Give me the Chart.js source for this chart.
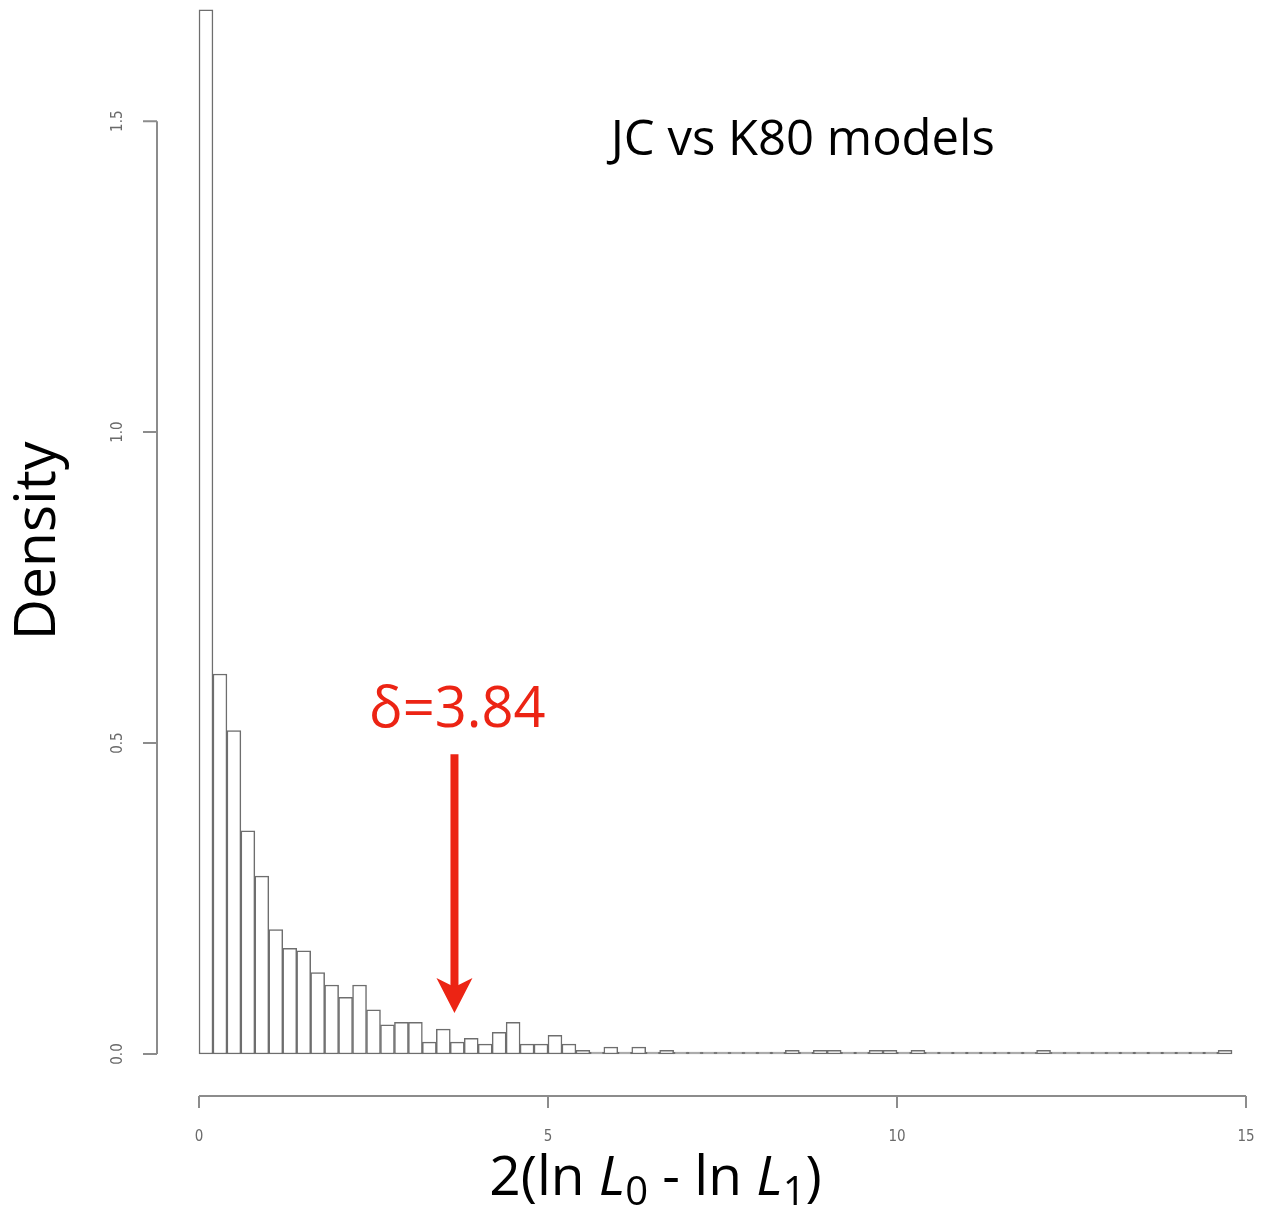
<!DOCTYPE html>
<html>
<head>
<meta charset="utf-8">
<script src="https://cdn.jsdelivr.net/npm/chart.js@4.4.1/dist/chart.umd.min.js"></script>
<style>
  html, body { margin: 0; padding: 0; background: #fff; }
</style>
</head>
<body>
<canvas id="myChart" width="1262" height="1212"></canvas>
<script>
// histogram bins (left edge of each 0.2 wide bin)
const binStart = [
  0, 0.2, 0.4, 0.6, 0.8, 1, 1.2, 1.4, 1.6, 1.8,
  2, 2.2, 2.4, 2.6, 2.8, 3, 3.2, 3.4, 3.6, 3.8,
  4, 4.2, 4.4, 4.6, 4.8, 5, 5.2, 5.4, 5.6, 5.8,
  6, 6.2, 6.4, 6.6, 6.8, 7, 7.2, 7.4, 7.6, 7.8,
  8, 8.2, 8.4, 8.6, 8.8, 9, 9.2, 9.4, 9.6, 9.8,
  10, 10.2, 10.4, 10.6, 10.8, 11, 11.2, 11.4, 11.6, 11.8,
  12, 12.2, 12.4, 12.6, 12.8, 13, 13.2, 13.4, 13.6, 13.8,
  14, 14.2, 14.4, 14.6
];
const binWidth = 0.2;

// density
const density = [
  1.679, 0.611, 0.520, 0.359, 0.286, 0.200, 0.170, 0.166, 0.131, 0.111,
  0.091, 0.111, 0.071, 0.047, 0.051, 0.051, 0.019, 0.040, 0.019, 0.025,
  0.016, 0.035, 0.051, 0.016, 0.016, 0.030, 0.016, 0.006, 0, 0.011,
  0.003, 0.011, 0, 0.006, 0, 0, 0, 0, 0, 0,
  0, 0, 0.006, 0, 0.006, 0.006, 0, 0, 0.006, 0.006,
  0, 0.006, 0, 0, 0, 0, 0, 0, 0, 0,
  0.006, 0, 0, 0, 0, 0, 0, 0, 0, 0,
  0, 0, 0, 0.006
];

const xTicks = [0, 5, 10, 15];
const yTicks = [0, 0.5, 1.0, 1.5];
const yTickLabels = ['0.0', '0.5', '1.0', '1.5'];

const chartTitle = 'JC vs K80 models';
const yTitle = 'Density';
const deltaLabel = 'δ=3.84';
// arrow position in data units
const arrowX = 3.66;
const arrowTop = 0.482;
const arrowTip = 0.066;

const red = '#ec2414';

const rStyle = {
  id: 'rStyle',
  afterDraw(chart) {
    const ctx = chart.ctx;
    const x = chart.scales.x, y = chart.scales.y;
    const gap = 42;
    const ax = x.getPixelForValue(0) - gap;
    const ay = y.getPixelForValue(0) + gap;

    ctx.save();
    ctx.strokeStyle = '#8c8c8c';
    ctx.lineWidth = 2;
    ctx.beginPath();
    // y axis
    ctx.moveTo(ax, y.getPixelForValue(yTicks[0]));
    ctx.lineTo(ax, y.getPixelForValue(yTicks[yTicks.length - 1]));
    yTicks.forEach(v => {
      const py = y.getPixelForValue(v);
      ctx.moveTo(ax, py);
      ctx.lineTo(ax - 14, py);
    });
    // x axis
    ctx.moveTo(x.getPixelForValue(xTicks[0]), ay);
    ctx.lineTo(x.getPixelForValue(xTicks[xTicks.length - 1]), ay);
    xTicks.forEach(v => {
      const px = x.getPixelForValue(v);
      ctx.moveTo(px, ay);
      ctx.lineTo(px, ay + 12);
    });
    ctx.stroke();

    // tick labels
    ctx.fillStyle = '#6a6a6a';
    ctx.font = '15px "Liberation Sans Narrow", "DejaVu Sans Condensed", sans-serif';
    ctx.textAlign = 'center';
    ctx.textBaseline = 'middle';
    xTicks.forEach(v => ctx.fillText(String(v), x.getPixelForValue(v), ay + 41));
    yTicks.forEach((v, i) => {
      ctx.save();
      ctx.translate(ax - 39, y.getPixelForValue(v));
      ctx.rotate(-Math.PI / 2);
      ctx.fillText(yTickLabels[i], 0, 0);
      ctx.restore();
    });

    // chart title
    ctx.fillStyle = '#000';
    ctx.font = '49px "Open Sans", sans-serif';
    ctx.textBaseline = 'alphabetic';
    ctx.fillText(chartTitle, x.getPixelForValue(8.65), y.getPixelForValue(1.445));

    // y title
    ctx.save();
    ctx.translate(ax - 118, y.getPixelForValue(0.825));
    ctx.rotate(-Math.PI / 2);
    ctx.font = '57px "Open Sans", sans-serif';
    ctx.textBaseline = 'middle';
    ctx.fillText(yTitle, 0, 0);
    ctx.restore();

    // x title: 2(ln L0 - ln L1)
    const parts = [
      { t: '2(ln ', f: '' , dy: 0, s: 1 },
      { t: 'L', f: 'italic ', dy: 0, s: 1 },
      { t: '0', f: '', dy: 10, s: 0.72 },
      { t: ' - ln ', f: '', dy: 0, s: 1 },
      { t: 'L', f: 'italic ', dy: 0, s: 1 },
      { t: '1', f: '', dy: 10, s: 0.72 },
      { t: ')', f: '', dy: 0, s: 1 }
    ];
    const size = 55;
    ctx.textAlign = 'left';
    let total = 0;
    parts.forEach(p => {
      ctx.font = p.f + Math.round(size * p.s) + 'px "Open Sans", sans-serif';
      p.w = ctx.measureText(p.t).width;
      total += p.w;
    });
    let cx = x.getPixelForValue(6.54) - total / 2;
    const base = ay + 99;
    parts.forEach(p => {
      ctx.font = p.f + Math.round(size * p.s) + 'px "Open Sans", sans-serif';
      ctx.fillText(p.t, cx, base + p.dy);
      cx += p.w;
    });

    // delta annotation
    ctx.fillStyle = red;
    ctx.strokeStyle = red;
    ctx.textAlign = 'center';
    ctx.font = '56px "Open Sans", sans-serif';
    ctx.fillText(deltaLabel, x.getPixelForValue(3.7), y.getPixelForValue(0.526));
    const px = x.getPixelForValue(arrowX);
    const pTop = y.getPixelForValue(arrowTop);
    const pTip = y.getPixelForValue(arrowTip);
    ctx.lineWidth = 8;
    ctx.beginPath();
    ctx.moveTo(px, pTop);
    ctx.lineTo(px, pTip - 20);
    ctx.stroke();
    ctx.beginPath();
    ctx.moveTo(px - 18, pTip - 35);
    ctx.lineTo(px, pTip - 26);
    ctx.lineTo(px + 18, pTip - 35);
    ctx.lineTo(px, pTip);
    ctx.closePath();
    ctx.fill();
    ctx.restore();
  }
};

const ctx = document.getElementById('myChart').getContext('2d');
new Chart(ctx, {
  type: 'bar',
  data: {
    datasets: [{
      data: binStart.map((b, i) => ({ x: b + binWidth / 2, y: density[i] })),
      backgroundColor: '#ffffff',
      borderColor: '#6e6e6e',
      borderWidth: 1.5,
      borderSkipped: false,
      barPercentage: 1,
      categoryPercentage: 1,
      minBarLength: 2,
      clip: false
    }]
  },
  options: {
    responsive: false,
    animation: false,
    devicePixelRatio: 1,
    layout: { padding: { left: 199, right: 16, top: 3, bottom: 158 } },
    plugins: {
      legend: { display: false },
      tooltip: { enabled: false }
    },
    scales: {
      x: { type: 'linear', min: 0, max: 15, offset: false, display: false },
      y: { min: 0, max: 1.69, display: false }
    }
  },
  plugins: [rStyle]
});
</script>
</body>
</html>
